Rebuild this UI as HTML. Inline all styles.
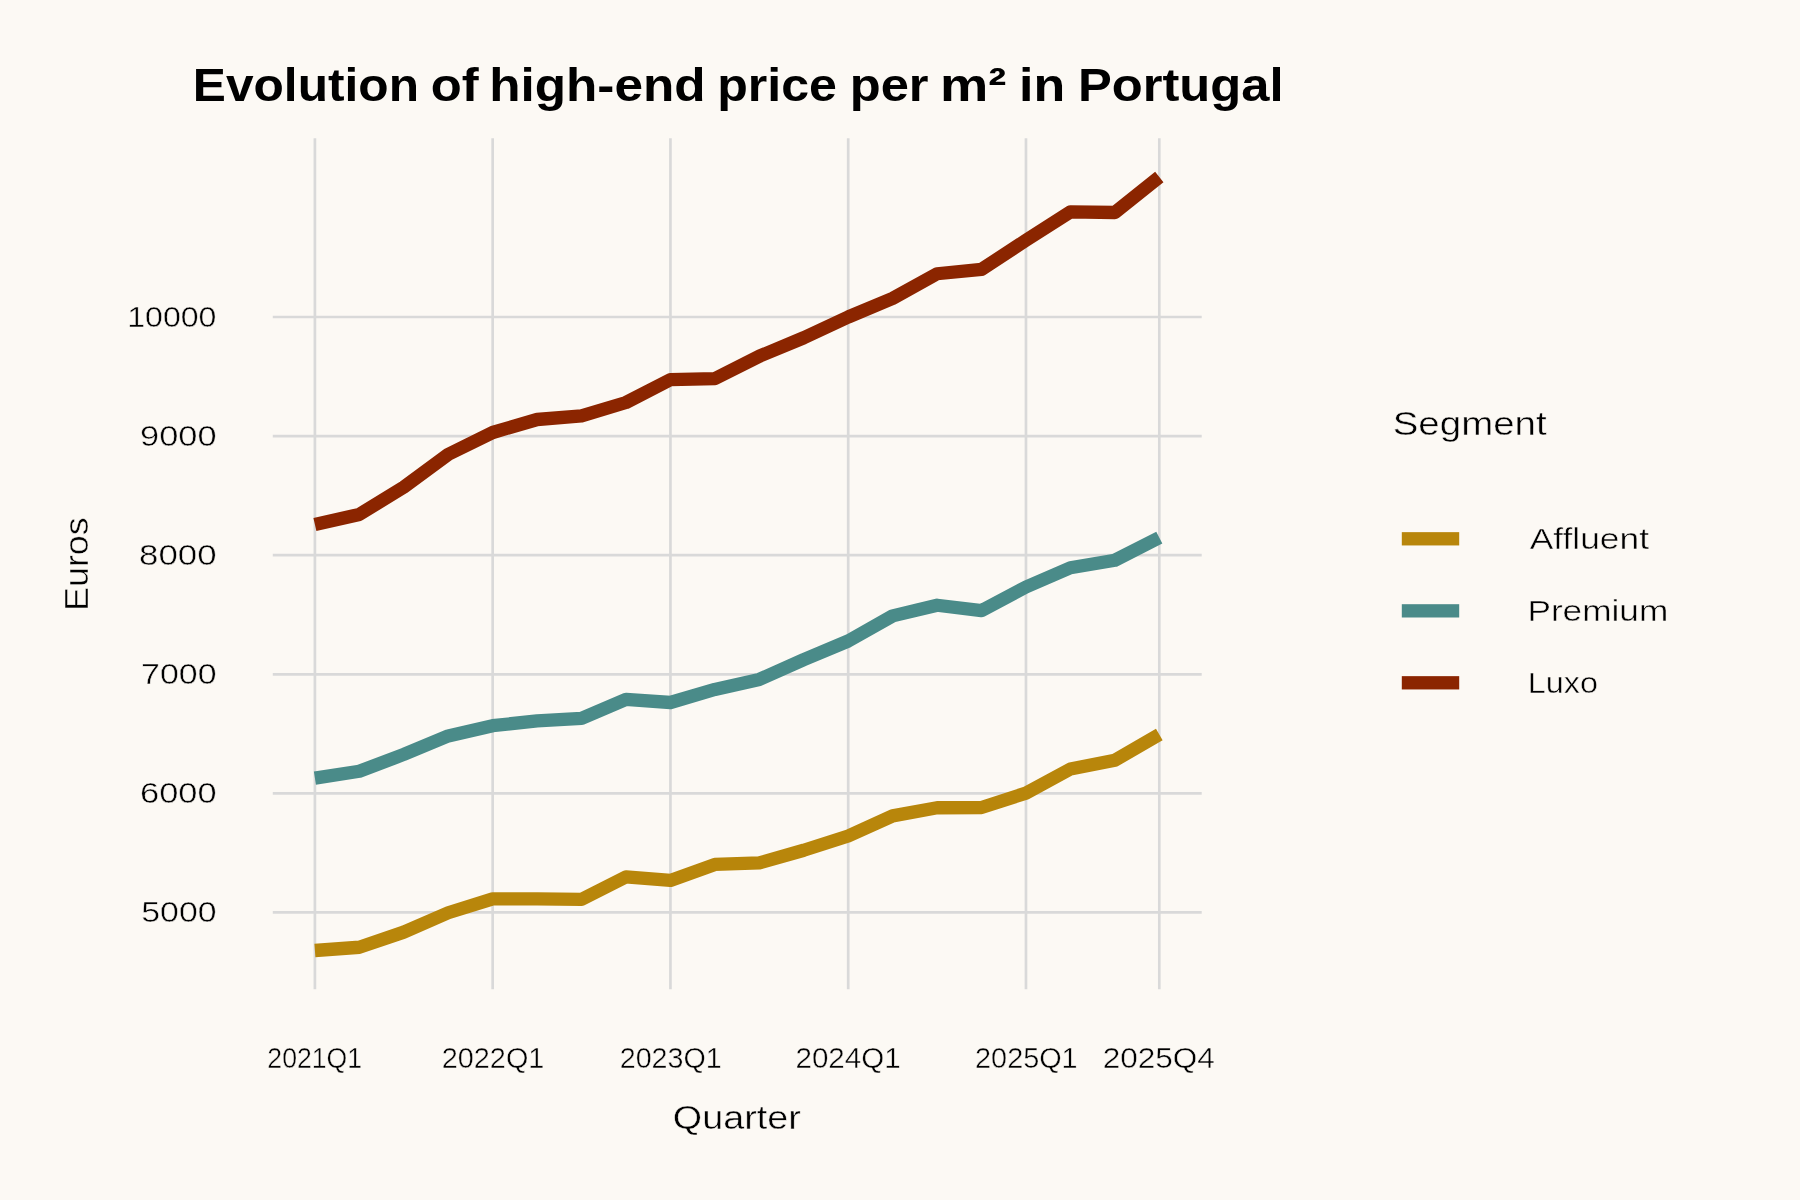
<!DOCTYPE html><html><head><meta charset="utf-8"><style>html,body{margin:0;padding:0;background:#FCF9F4;width:1800px;height:1200px;overflow:hidden}svg{display:block;will-change:transform}text{font-family:"Liberation Sans",sans-serif;fill:#000}</style></head><body>
<svg width="1800" height="1200" viewBox="0 0 1800 1200">
<rect width="1800" height="1200" fill="#FCF9F4"/>
<path d="M272.8,912.45 H1201.7 M272.8,793.4 H1201.7 M272.8,674.3 H1201.7 M272.8,555.2 H1201.7 M272.8,436.1 H1201.7 M272.8,317.0 H1201.7 M314.90,138.3 V989.2 M492.67,138.3 V989.2 M670.44,138.3 V989.2 M848.21,138.3 V989.2 M1025.97,138.3 V989.2 M1159.30,138.3 V989.2" stroke="#D9D9D9" stroke-width="2.67" fill="none"/>
<path d="M314.90,950.50 L359.34,947.25 L403.78,932.10 L448.23,912.75 L492.67,898.80 L537.11,898.90 L581.55,899.40 L625.99,876.90 L670.44,880.40 L714.88,864.40 L759.32,862.90 L803.76,850.25 L848.21,836.00 L892.65,815.90 L937.09,807.75 L981.53,807.50 L1025.97,793.10 L1070.42,769.00 L1114.86,760.25 L1159.30,734.50" stroke="#B8860B" stroke-width="13.3" fill="none" stroke-linejoin="round" stroke-linecap="butt"/>
<path d="M314.90,778.10 L359.34,771.25 L403.78,754.40 L448.23,735.90 L492.67,725.70 L537.11,720.90 L581.55,718.40 L625.99,699.40 L670.44,702.50 L714.88,689.40 L759.32,679.40 L803.76,659.60 L848.21,641.00 L892.65,615.90 L937.09,605.25 L981.53,610.60 L1025.97,587.00 L1070.42,567.75 L1114.86,560.25 L1159.30,537.60" stroke="#4A8B89" stroke-width="13.3" fill="none" stroke-linejoin="round" stroke-linecap="butt"/>
<path d="M314.90,524.60 L359.34,514.40 L403.78,487.10 L448.23,454.40 L492.67,432.50 L537.11,419.50 L581.55,415.90 L625.99,402.50 L670.44,379.60 L714.88,378.60 L759.32,356.25 L803.76,337.75 L848.21,317.00 L892.65,298.40 L937.09,273.75 L981.53,269.40 L1025.97,240.30 L1070.42,211.90 L1114.86,212.50 L1159.30,177.00" stroke="#8B2500" stroke-width="13.3" fill="none" stroke-linejoin="round" stroke-linecap="butt"/>
<text id="t0" x="192.81" y="101.3" font-size="46.6" textLength="226.19" lengthAdjust="spacingAndGlyphs" font-weight="bold">Evolution</text>
<text id="t1" x="430.84" y="101.3" font-size="46.6" textLength="47.88" lengthAdjust="spacingAndGlyphs" font-weight="bold">of</text>
<text id="t2" x="489.17" y="101.3" font-size="46.6" textLength="216.46" lengthAdjust="spacingAndGlyphs" font-weight="bold">high-end</text>
<text id="t3" x="717.28" y="101.3" font-size="46.6" textLength="119.7" lengthAdjust="spacingAndGlyphs" font-weight="bold">price</text>
<text id="t4" x="849.74" y="101.3" font-size="46.6" textLength="78.83" lengthAdjust="spacingAndGlyphs" font-weight="bold">per</text>
<text id="t5" x="940.05" y="101.3" font-size="46.6" textLength="66.43" lengthAdjust="spacingAndGlyphs" font-weight="bold">m²</text>
<text id="t6" x="1019.08" y="101.3" font-size="46.6" textLength="46.18" lengthAdjust="spacingAndGlyphs" font-weight="bold">in</text>
<text id="t7" x="1078.02" y="101.3" font-size="46.6" textLength="205.5" lengthAdjust="spacingAndGlyphs" font-weight="bold">Portugal</text>
<text id="y5000" x="216.56" y="922.05" font-size="29.65" text-anchor="end" textLength="75.29" lengthAdjust="spacingAndGlyphs" stroke="#FCF9F4" stroke-width="0.45">5000</text>
<text id="y6000" x="216.59" y="803.0" font-size="29.65" text-anchor="end" textLength="76.51" lengthAdjust="spacingAndGlyphs" stroke="#FCF9F4" stroke-width="0.45">6000</text>
<text id="y7000" x="216.57" y="683.9" font-size="29.65" text-anchor="end" textLength="75.48" lengthAdjust="spacingAndGlyphs" stroke="#FCF9F4" stroke-width="0.45">7000</text>
<text id="y8000" x="216.6" y="564.8" font-size="29.65" text-anchor="end" textLength="77.54" lengthAdjust="spacingAndGlyphs" stroke="#FCF9F4" stroke-width="0.45">8000</text>
<text id="y9000" x="216.56" y="445.7" font-size="29.65" text-anchor="end" textLength="76.49" lengthAdjust="spacingAndGlyphs" stroke="#FCF9F4" stroke-width="0.45">9000</text>
<text id="y10000" x="216.49" y="326.6" font-size="29.65" text-anchor="end" textLength="89.32" lengthAdjust="spacingAndGlyphs" stroke="#FCF9F4" stroke-width="0.45">10000</text>
<text id="x2021Q1" x="314.71" y="1067.9" font-size="29.65" text-anchor="middle" textLength="94.73" lengthAdjust="spacingAndGlyphs" stroke="#FCF9F4" stroke-width="0.45">2021Q1</text>
<text id="x2022Q1" x="493.06" y="1067.9" font-size="29.65" text-anchor="middle" textLength="102.64" lengthAdjust="spacingAndGlyphs" stroke="#FCF9F4" stroke-width="0.45">2022Q1</text>
<text id="x2023Q1" x="670.74" y="1067.9" font-size="29.65" text-anchor="middle" textLength="102.02" lengthAdjust="spacingAndGlyphs" stroke="#FCF9F4" stroke-width="0.45">2023Q1</text>
<text id="x2024Q1" x="848.11" y="1067.9" font-size="29.65" text-anchor="middle" textLength="105.3" lengthAdjust="spacingAndGlyphs" stroke="#FCF9F4" stroke-width="0.45">2024Q1</text>
<text id="x2025Q1" x="1026.37" y="1067.9" font-size="29.65" text-anchor="middle" textLength="102.6" lengthAdjust="spacingAndGlyphs" stroke="#FCF9F4" stroke-width="0.45">2025Q1</text>
<text id="x2025Q4" x="1158.79" y="1067.9" font-size="29.65" text-anchor="middle" textLength="112.24" lengthAdjust="spacingAndGlyphs" stroke="#FCF9F4" stroke-width="0.45">2025Q4</text>
<text id="xtitle" x="736.82" y="1128.9" font-size="33.9" text-anchor="middle" textLength="127.94" lengthAdjust="spacingAndGlyphs" stroke="#FCF9F4" stroke-width="0.45">Quarter</text>
<text id="ytitle" x="88" y="564.1" font-size="33.9" text-anchor="middle" textLength="93.82" lengthAdjust="spacingAndGlyphs" stroke="#FCF9F4" stroke-width="0.45" transform="rotate(-90 88 564.1)">Euros</text>
<text id="legtitle" x="1392.72" y="435.0" font-size="33.9" textLength="153.91" lengthAdjust="spacingAndGlyphs" stroke="#FCF9F4" stroke-width="0.45">Segment</text>
<text id="legA" x="1529.79" y="549.0" font-size="29.65" textLength="119.2" lengthAdjust="spacingAndGlyphs" stroke="#FCF9F4" stroke-width="0.45">Affluent</text>
<text id="legP" x="1527.42" y="621.2" font-size="29.65" textLength="140.88" lengthAdjust="spacingAndGlyphs" stroke="#FCF9F4" stroke-width="0.45">Premium</text>
<text id="legL" x="1527.82" y="693.2" font-size="29.65" textLength="70.23" lengthAdjust="spacingAndGlyphs" stroke="#FCF9F4" stroke-width="0.45">Luxo</text>
<rect x="1401.8" y="532.15" width="57.4" height="13.3" fill="#B8860B"/>
<rect x="1401.8" y="604.2" width="57.4" height="13.3" fill="#4A8B89"/>
<rect x="1401.8" y="676.15" width="57.4" height="13.3" fill="#8B2500"/>
</svg></body></html>
